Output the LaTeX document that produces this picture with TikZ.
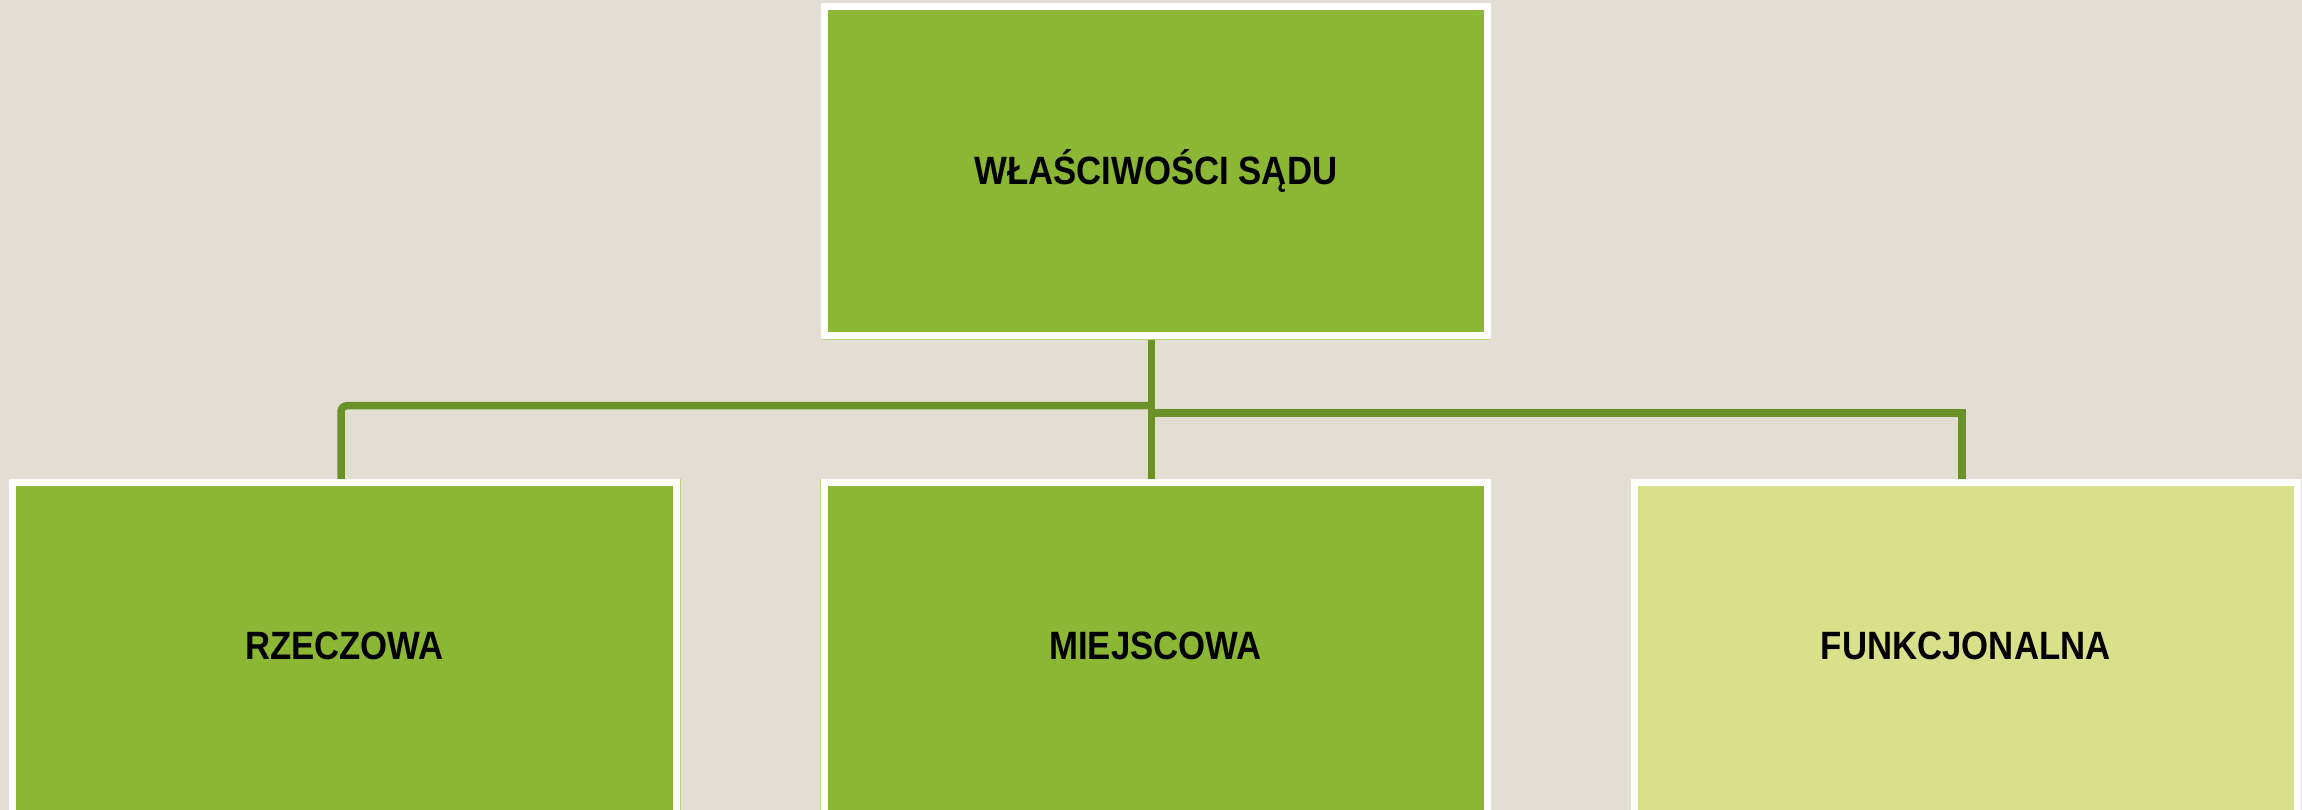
\documentclass[tikz,border=0pt]{standalone}
\usepackage{fontspec}
\setmainfont{Liberation Sans}[FakeStretch=0.88]
\definecolor{bgc}{RGB}{227,222,211}
\definecolor{boxgreen}{RGB}{139,183,52}
\definecolor{boxlight}{RGB}{216,224,138}
\definecolor{linkc}{RGB}{107,146,40}
\definecolor{rimc}{RGB}{185,212,125}
\pgfdeclarelayer{bg}
\pgfdeclarelayer{lines}
\pgfsetlayers{bg,lines,main}
\begin{document}
\begin{tikzpicture}[x=1pt,y=-1pt,
  boxfont/.style={font=\fontsize{39.5}{44}\selectfont\bfseries, text=black},
  box/.style={rectangle, draw=white, line width=7pt, fill=boxgreen, inner sep=0pt, boxfont},
  rim/.style={draw=rimc, line width=1pt},
  link/.style={draw=linkc, line width=7.5pt}]
\begin{pgfonlayer}{bg}
\fill[bgc] (0,0) rectangle (2302,810);
\end{pgfonlayer}
\useasboundingbox (0,0) rectangle (2302,810);
\clip (0,0) rectangle (2302,810);
% rims
\draw[rim] (821,3.5) rectangle (1490.5,339);
\draw[rim] (9,479) rectangle (680,840);
\draw[rim] (820.5,479) rectangle (1490.5,840);
% boxes
\node[box, minimum width=662.5pt, minimum height=328.5pt] (top) at (1155.75,171.25) {WŁAŚCIWOŚCI SĄDU};
\node[box, minimum width=664pt, minimum height=344pt, label={[yshift=9pt, boxfont]center:RZECZOWA}] (left) at (344.5,654.5) {};
\node[box, minimum width=663pt, minimum height=344pt, label={[yshift=9pt, boxfont]center:MIEJSCOWA}] (mid) at (1155.5,654.5) {};
\node[box, fill=boxlight, minimum width=662.5pt, minimum height=344pt, label={[yshift=9pt, boxfont]center:FUNKCJONALNA}] (right) at (1965.75,654.5) {};
% connectors
\coordinate (j) at (1151.7,0);
\coordinate (jl) at (341,405.7);
\coordinate (jr) at (1962,413);
\begin{pgfonlayer}{lines}
\draw[link] (top.south -| j) -- (mid.north -| j);
\draw[link, rounded corners=6pt] (j |- jl) -- (jl) -- (left.north -| jl);
\draw[link] (j |- jr) -- (jr) -- (right.north -| jr);
\end{pgfonlayer}
\end{tikzpicture}
\end{document}
